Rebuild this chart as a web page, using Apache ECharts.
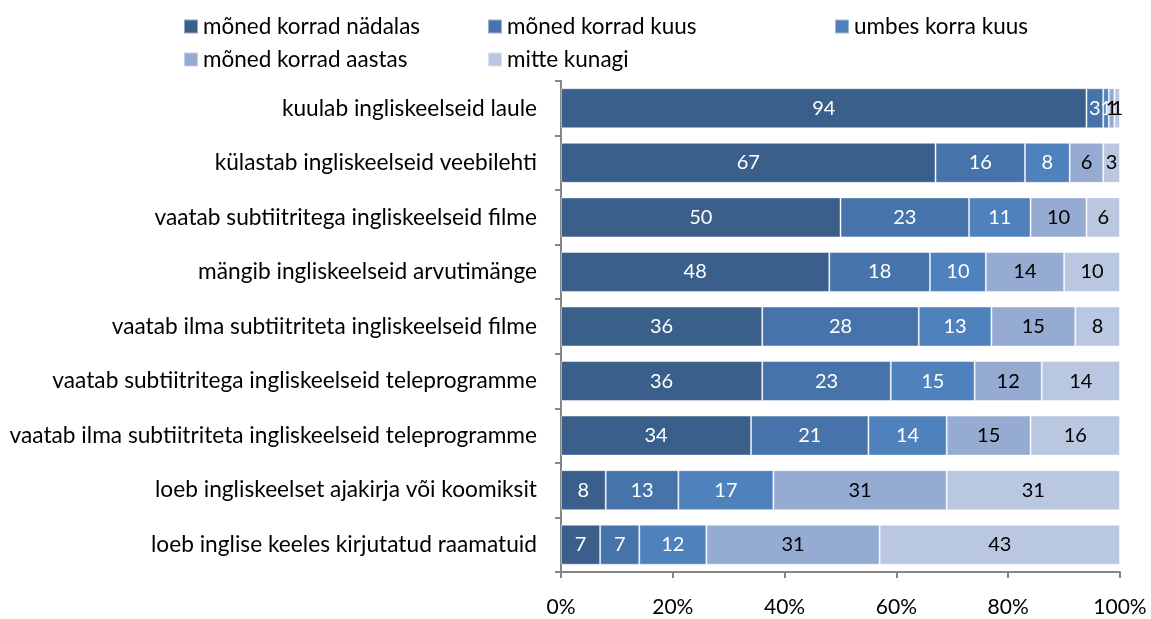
<!DOCTYPE html>
<html>
<head>
<meta charset="utf-8">
<script src="https://cdn.jsdelivr.net/npm/echarts@6/dist/echarts.min.js"></script>
<style>
  html, body { margin: 0; padding: 0; background: #fff; }
  #chart { width: 1151px; height: 619px; }
</style>
</head>
<body>
<div id="chart"></div>
<script>
(function () {
  var categories = [
    'kuulab ingliskeelseid laule',
    'külastab ingliskeelseid veebilehti',
    'vaatab subtiitritega ingliskeelseid filme',
    'mängib ingliskeelseid arvutimänge',
    'vaatab ilma subtiitriteta ingliskeelseid filme',
    'vaatab subtiitritega ingliskeelseid teleprogramme',
    'vaatab ilma subtiitriteta ingliskeelseid teleprogramme',
    'loeb ingliskeelset ajakirja või koomiksit',
    'loeb inglise keeles kirjutatud raamatuid'
  ];
  var seriesNames = ['mõned korrad nädalas', 'mõned korrad kuus', 'umbes korra kuus', 'mõned korrad aastas', 'mitte kunagi'];
  var weekly  = [94, 67, 50, 48, 36, 36, 34, 8, 7];
  var monthly = [3, 16, 23, 18, 28, 23, 21, 13, 7];
  var onceMonth = [1, 8, 11, 10, 13, 15, 14, 17, 12];
  var yearly  = [1, 6, 10, 14, 15, 12, 15, 31, 31];
  var never   = [1, 3, 6, 10, 8, 14, 16, 31, 43];
  var xTicks = [0, 20, 40, 60, 80, 100];

  var colors = ['#3A5F8B', '#4674AA', '#4F81BD', '#95ABD1', '#B9C7E1'];
  var labelColors = ['#fff', '#fff', '#fff', '#000', '#000'];
  var allData = [weekly, monthly, onceMonth, yearly, never];
  var font = 'Lato, "Open Sans", sans-serif';

  // legend positions (3 columns, 2 rows)
  var legendPos = [[178, 10], [482, 10], [829, 10], [178, 43], [482, 43]];

  var legends = seriesNames.map(function (n, i) {
    return {
      data: [n], left: legendPos[i][0], top: legendPos[i][1],
      itemWidth: 14, itemHeight: 14, itemGap: 6, icon: 'rect',
      textStyle: { fontFamily: font, fontSize: 22.5, color: '#000' },
      selectedMode: false
    };
  });

  var series = seriesNames.map(function (n, i) {
    return {
      name: n, type: 'bar', stack: 'all', barWidth: 40,
      data: allData[i],
      itemStyle: { color: colors[i], borderColor: 'rgba(255,255,255,0.45)', borderWidth: 1 },
      label: { show: true, position: 'inside', color: labelColors[i], fontFamily: font, fontSize: 20 },
      emphasis: { disabled: true }
    };
  });

  var c = echarts.init(document.getElementById('chart'), null, { renderer: 'canvas' });
  c.setOption({
    animation: false,
    color: colors,
    legend: legends,
    grid: { left: 561, right: 31, top: 81, bottom: 47 },
    xAxis: {
      type: 'value', min: xTicks[0], max: xTicks[xTicks.length - 1], interval: 20,
      axisLine: { show: true, lineStyle: { color: '#868686', width: 2 } },
      axisTick: { show: true, length: 6, lineStyle: { color: '#868686', width: 2 } },
      splitLine: { show: false },
      axisLabel: { formatter: '{value}%', color: '#000', fontFamily: font, fontSize: 21, margin: 25 }
    },
    yAxis: {
      type: 'category', data: categories, inverse: true,
      axisLine: { show: true, lineStyle: { color: '#868686', width: 2 } },
      axisTick: { show: true, length: 6, lineStyle: { color: '#868686', width: 2 } },
      axisLabel: { color: '#000', fontFamily: font, fontSize: 22.7, margin: 24 }
    },
    series: series
  });
})();
</script>
</body>
</html>
